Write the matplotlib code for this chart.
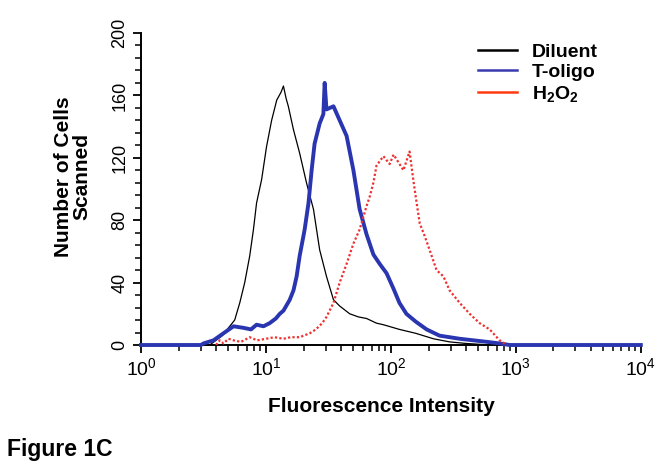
import numpy as np
import matplotlib
matplotlib.use("Agg")
import matplotlib.pyplot as plt
from matplotlib.lines import Line2D
from matplotlib.ticker import MultipleLocator, LogLocator, NullFormatter

plt.rcParams['font.family'] = ['Liberation Sans', 'DejaVu Sans']
plt.rcParams['mathtext.default'] = 'regular'

# Diluent histogram (fluorescence intensity, number of cells)
diluent_x = [1.0, 3.55, 4.47, 5.62, 6.17, 6.76, 7.41, 7.94, 8.41, 9.23, 10.1, 11.1,
             12.2, 13.2, 13.8, 14.5, 15.1, 16.6, 18.6, 21.1, 24.0, 26.9, 30.5, 34.7,
             38.9, 46.8, 55.0, 63.8, 76.7, 87.1, 117, 158, 219, 295, 398, 631, 10000]
diluent_y = [0, 0, 6, 16, 27, 40, 57, 74, 91, 106, 127, 144,
             157, 162, 166, 158, 153, 138, 123, 104, 87, 61, 44, 29,
             25, 20, 18, 17, 14, 13, 10, 7.5, 4, 2, 1, 0, 0]

# T-oligo histogram
toligo_x = [1.0, 3.02, 3.16, 3.80, 4.57, 5.50, 6.61, 7.59, 8.41, 9.55, 10.7, 12.0,
            12.9, 13.8, 15.5, 16.6, 17.6, 18.6, 20.4, 21.9, 23.2, 24.5, 26.9, 28.8,
            29.5, 30.5, 34.7, 38.9, 44.2, 50.1, 56.2, 63.8, 72.4, 81.3, 92.3, 105,
            117, 133, 158, 193, 245, 355, 589, 741, 891, 10000]
toligo_y = [0, 0, 1, 3, 7.5, 12, 11, 10, 13, 12, 14, 17,
            20, 22, 29, 35, 44, 57, 74, 91, 112, 129, 142, 148,
            168, 151, 153, 144, 134, 112, 87, 71, 58, 52, 46, 36,
            27, 20, 15, 10, 6, 4, 2, 1, 0, 0]

# H2O2 histogram
h2o2_x = [3.98, 4.27, 4.57, 5.01, 5.50, 6.31, 7.41, 8.51, 10.0, 11.7, 13.8, 15.8,
          18.6, 22.4, 25.1, 28.2, 30.5, 34.7, 38.9, 44.2, 50.1, 56.2, 63.8, 67.6,
          72.4, 76.7, 87.1, 97.7, 105, 111, 126, 141, 151, 158, 170, 186,
          204, 232, 263, 295, 355, 427, 513, 617, 741, 813, 851]
h2o2_y = [0, 3, 1, 4, 3, 2, 5, 3, 4, 5, 4, 5,
          5, 7.5, 10, 14, 18, 27, 40, 52, 65, 74, 89, 95,
          104, 115, 121, 116, 122, 119, 112, 124, 106, 95, 78, 70,
          61, 48, 44, 35, 27, 20, 14, 10, 3, 1, 0]

series_labels = ['Diluent', 'T-oligo', 'H$_2$O$_2$']

fig = plt.figure(figsize=(6.62, 4.71), dpi=100)
ax = fig.add_axes([0.213, 0.2675, 0.755, 0.6625])

ax.plot(diluent_x, diluent_y, color='black', lw=0.9, zorder=3)
ax.plot(toligo_x, toligo_y, color='#2a35b0', lw=2.8, zorder=4, clip_on=False)
ax.plot(h2o2_x, h2o2_y, color='#ee3030', lw=1.6, ls=(0, (1, 1)), zorder=5)

ax.set_xscale('log')
ax.set_xlim(1, 1e4)
ax.set_ylim(0, 200)

for s in ['top', 'right']:
    ax.spines[s].set_visible(False)
for s in ['left', 'bottom']:
    ax.spines[s].set_linewidth(1.4)
    ax.spines[s].set_zorder(1)

ax.yaxis.set_major_locator(MultipleLocator(40))
ax.yaxis.set_minor_locator(MultipleLocator(8))
ax.xaxis.set_major_locator(LogLocator(base=10, numticks=10))
ax.xaxis.set_minor_locator(LogLocator(base=10, subs=np.arange(2, 10), numticks=10))
ax.xaxis.set_minor_formatter(NullFormatter())

ax.tick_params(which='major', direction='out', length=6, width=1.3)
ax.tick_params(which='minor', direction='out', length=4, width=1.1)
ax.tick_params(axis='x', labelsize=14, pad=3)
ax.tick_params(axis='y', labelsize=13, pad=3)
for lab in ax.get_yticklabels():
    lab.set_rotation(90)
    lab.set_va('center')

fig.text(0.11, 0.625, 'Number of Cells\nScanned', rotation=90, ha='center', va='center',
         fontsize=15, fontweight='bold', linespacing=1.0)
fig.text(0.576, 0.138, 'Fluorescence Intensity', ha='center', va='center',
         fontsize=15, fontweight='bold')
fig.text(0.01, 0.045, 'Figure 1C', ha='left', va='center', fontsize=16.5, fontweight='bold')

handles = [Line2D([], [], color='black', lw=1.8),
           Line2D([], [], color='#3a3ab0', lw=1.8),
           Line2D([], [], color='#ff3a10', lw=1.8)]
fig.legend(handles, series_labels, loc='upper left', bbox_to_anchor=(0.71, 0.925),
           frameon=False, prop={'weight': 'bold', 'size': 14},
           handlelength=2.0, handletextpad=0.8, labelspacing=0.15, borderaxespad=0)

fig.savefig('out.png', dpi=100)
